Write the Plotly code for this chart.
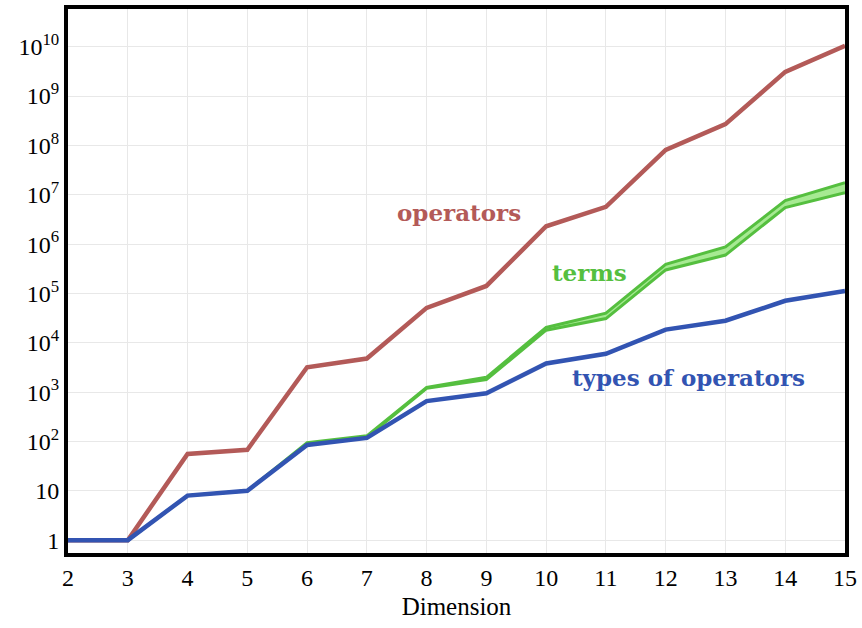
import plotly.graph_objects as go

dims = [2, 3, 4, 5, 6, 7, 8, 9, 10, 11, 12, 13, 14, 15]
operators = [1, 1, 56, 68, 3200, 4800, 51000, 142000, 2.3e6, 5.7e6, 8.1e7, 2.7e8, 3.1e9, 1.05e10]
terms_low = [1, 1, 8, 10, 88, 122, 1200, 1800, 18000, 31000, 3.0e5, 6.0e5, 5.5e6, 1.1e7]
terms_high = [1, 1, 8, 10, 95, 130, 1250, 2000, 20500, 40000, 3.9e5, 8.8e5, 7.6e6, 1.75e7]
types_ops = [1, 1, 8, 10, 85, 118, 660, 950, 3800, 6000, 18500, 28000, 71000, 112000]

ytick_vals = [10 ** k for k in range(0, 11)]
ytick_text = ["1", "10"] + ["10<sup>%d</sup>" % k for k in range(2, 11)]
xtick_vals = dims
xtick_text = [str(d) for d in dims]

RED = "#b35a58"
GREEN = "#55bf3f"
LIGHTGREEN = "#a6ea92"
BLUE = "#3254b2"
FONT = "Liberation Serif"
LABELFONT = "DejaVu Serif"

fig = go.Figure()
fig.add_trace(go.Scatter(x=dims, y=operators, mode="lines",
                         line=dict(color=RED, width=4.5), showlegend=False))
fig.add_trace(go.Scatter(x=dims, y=terms_low, mode="lines",
                         line=dict(color=GREEN, width=3), showlegend=False))
fig.add_trace(go.Scatter(x=dims, y=terms_high, mode="lines", fill="tonexty",
                         fillcolor=LIGHTGREEN,
                         line=dict(color=GREEN, width=3), showlegend=False))
fig.add_trace(go.Scatter(x=dims, y=types_ops, mode="lines",
                         line=dict(color=BLUE, width=4.5), showlegend=False))

fig.add_annotation(x=8.55, y=6.65, xref="x", yref="y", text="<b>operators</b>",
                   showarrow=False, font=dict(family=LABELFONT, size=23, color=RED))
fig.add_annotation(x=10.72, y=5.42, xref="x", yref="y", text="<b>terms</b>",
                   showarrow=False, font=dict(family=LABELFONT, size=23, color=GREEN))
fig.add_annotation(x=12.38, y=3.3, xref="x", yref="y", text="<b>types of operators</b>",
                   showarrow=False, font=dict(family=LABELFONT, size=23, color=BLUE))

fig.update_layout(
    width=862, height=628,
    margin=dict(l=68, r=16, t=5, b=75),
    plot_bgcolor="white", paper_bgcolor="white",
    font=dict(family=FONT, size=24, color="black"),
    xaxis=dict(range=[2, 15], tickvals=xtick_vals, ticktext=xtick_text,
               showgrid=True, gridcolor="#e8e8e8", gridwidth=1,
               zeroline=False, showline=True, linecolor="black", linewidth=4,
               mirror=True, ticks="", ticklen=0,
               title=dict(text="Dimension", font=dict(family=FONT, size=25), standoff=9)),
    yaxis=dict(type="log", range=[-0.26, 10.765], tickvals=ytick_vals, ticktext=ytick_text,
               showgrid=True, gridcolor="#e8e8e8", gridwidth=1,
               zeroline=False, showline=True, linecolor="black", linewidth=4,
               mirror=True, ticks="", ticklen=0),
)

fig.write_html("out.html", config={"displayModeBar": False},
               post_script="document.body.style.margin='0px';document.body.style.padding='0px';")
